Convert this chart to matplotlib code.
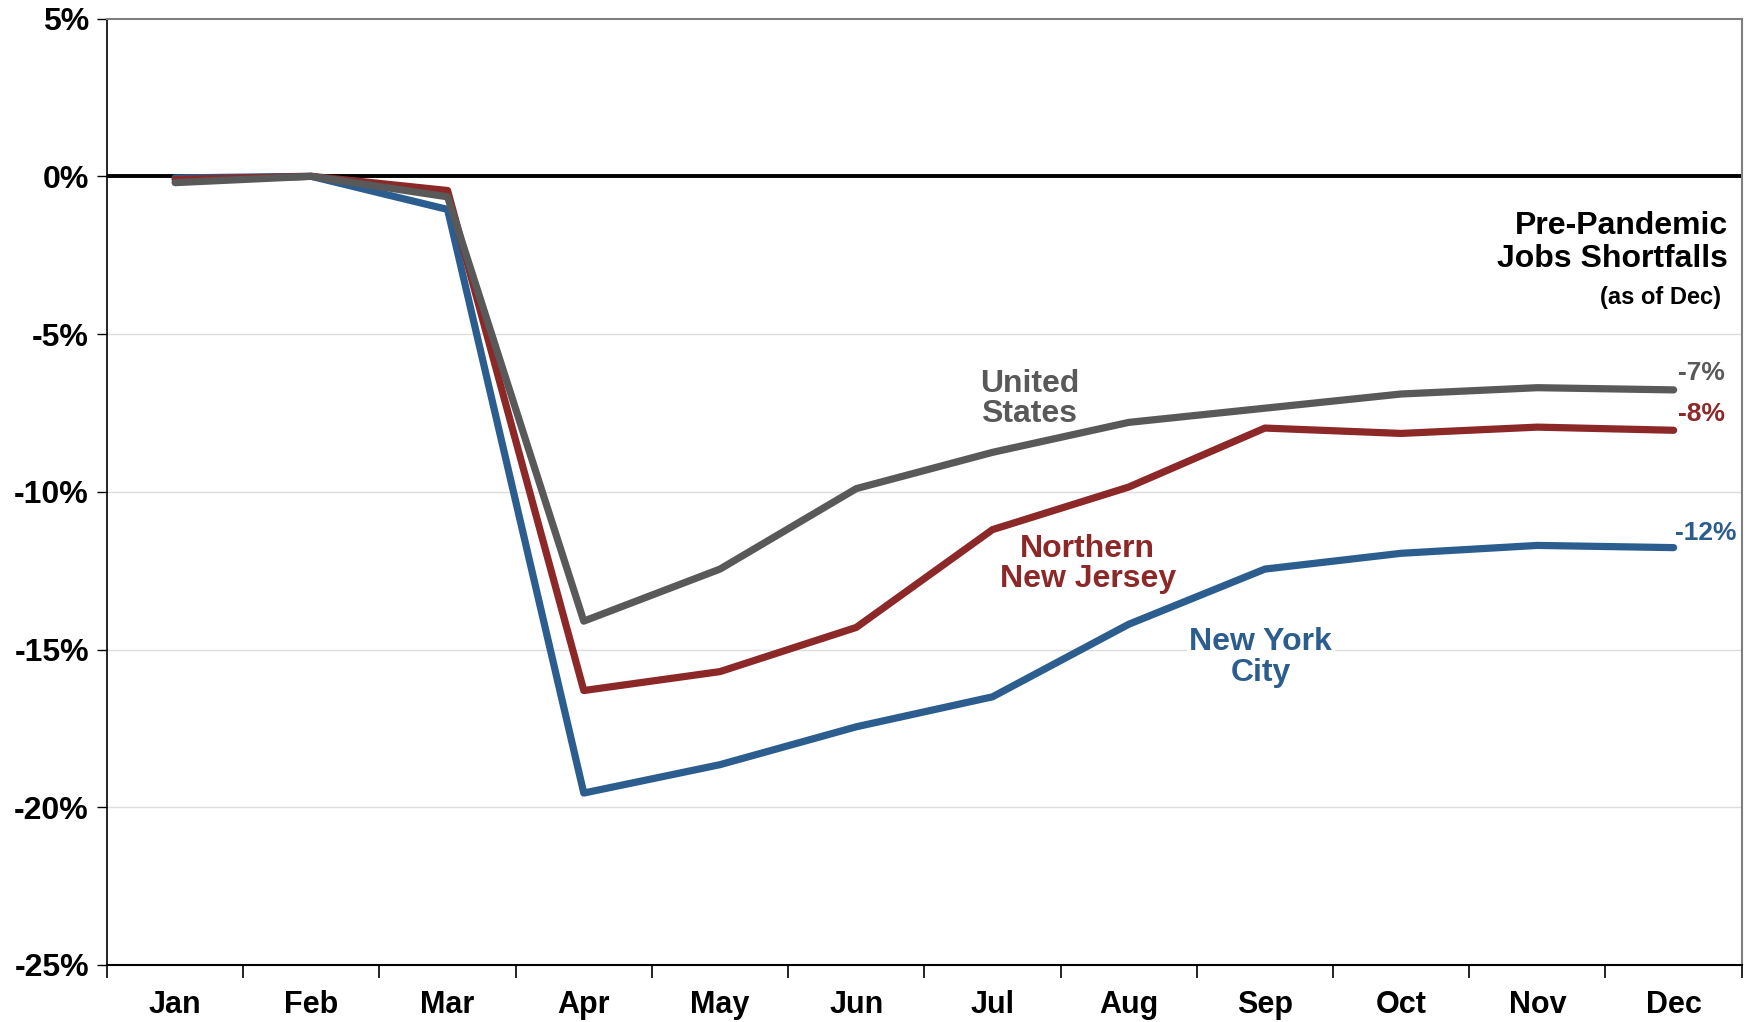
import matplotlib.pyplot as plt
from matplotlib.ticker import FixedLocator, NullFormatter

months = ["Jan", "Feb", "Mar", "Apr", "May", "Jun", "Jul", "Aug", "Sep", "Oct", "Nov", "Dec"]
us = [-0.2, 0.0, -0.65, -14.1, -12.45, -9.9, -8.75, -7.8, -7.35, -6.9, -6.7, -6.77]
nnj = [-0.1, 0.0, -0.45, -16.3, -15.7, -14.3, -11.2, -9.85, -7.98, -8.15, -7.95, -8.05]
nyc = [-0.05, 0.0, -1.05, -19.55, -18.65, -17.45, -16.5, -14.2, -12.45, -11.95, -11.7, -11.77]
end_labels = ["-7%", "-8%", "-12%"]

gray = "#595959"
red = "#8C2828"
blue = "#2C5D8F"

plt.rcParams['font.family'] = ['Liberation Sans', 'DejaVu Sans']

fig = plt.figure(figsize=(17.54, 10.22), dpi=100)
ax = fig.add_axes([0.061, 0.0558, 0.932, 0.926])

x = range(len(months))
ax.plot(x, nyc, color=blue, lw=5.2, solid_capstyle='round', zorder=3)
ax.plot(x, nnj, color=red, lw=5.2, solid_capstyle='round', zorder=4)
ax.plot(x, us, color=gray, lw=5.2, solid_capstyle='round', zorder=5)

ax.set_xlim(-0.5, 11.5)
ax.set_ylim(-25, 5)

# y axis
yt = [5, 0, -5, -10, -15, -20, -25]
ax.set_yticks(yt)
ax.set_yticklabels([f"{v}%" for v in yt], fontsize=23, fontweight='bold')
for v in [-5, -10, -15, -20]:
    ax.axhline(v, color="#dddddd", lw=1, zorder=1)
ax.axhline(0, color="black", lw=2.8, zorder=2)

# x axis: labels centered, ticks on boundaries
ax.set_xticks(list(x))
ax.set_xticklabels(months, fontsize=22, fontweight='bold')
ax.tick_params(axis='x', which='major', length=0, pad=18)
ax.xaxis.set_minor_locator(FixedLocator([i - 0.5 for i in range(13)]))
ax.xaxis.set_minor_formatter(NullFormatter())
ax.tick_params(axis='x', which='minor', length=9, width=1.2, direction='out')
ax.tick_params(axis='y', length=7, width=1, pad=6)

for s in ['top', 'right']:
    ax.spines[s].set_color("#7f7f7f")
    ax.spines[s].set_linewidth(1.5)
ax.spines['left'].set_linewidth(1.2)
ax.spines['bottom'].set_linewidth(1.5)

# series labels
ax.text(6.27, -7.05, "United\nStates", color=gray, fontsize=23, fontweight='bold',
        ha='center', va='center', linespacing=1.0)
ax.text(6.7, -12.3, "Northern\nNew Jersey", color=red, fontsize=23, fontweight='bold',
        ha='center', va='center', linespacing=1.0)
ax.text(7.97, -15.25, "New York\nCity", color=blue, fontsize=23, fontweight='bold',
        ha='center', va='center', linespacing=1.05,
        bbox=dict(facecolor='white', edgecolor='none', pad=2))

# end values
ax.text(11.03, us[-1] + 0.55, end_labels[0], color=gray, fontsize=19, fontweight='bold',
        ha='left', va='center')
ax.text(11.03, nnj[-1] + 0.5, end_labels[1], color=red, fontsize=19, fontweight='bold',
        ha='left', va='center')
ax.text(11.01, nyc[-1] + 0.45, end_labels[2], color=blue, fontsize=19, fontweight='bold',
        ha='left', va='center')

# header
ax.text(11.4, -2.1, "Pre-Pandemic\nJobs Shortfalls", color='black', fontsize=23,
        fontweight='bold', ha='right', va='center', linespacing=1.15)
ax.text(11.35, -3.85, "(as of Dec)", color='black', fontsize=17, fontweight='bold',
        ha='right', va='center')

fig.savefig("out.png", dpi=100)
